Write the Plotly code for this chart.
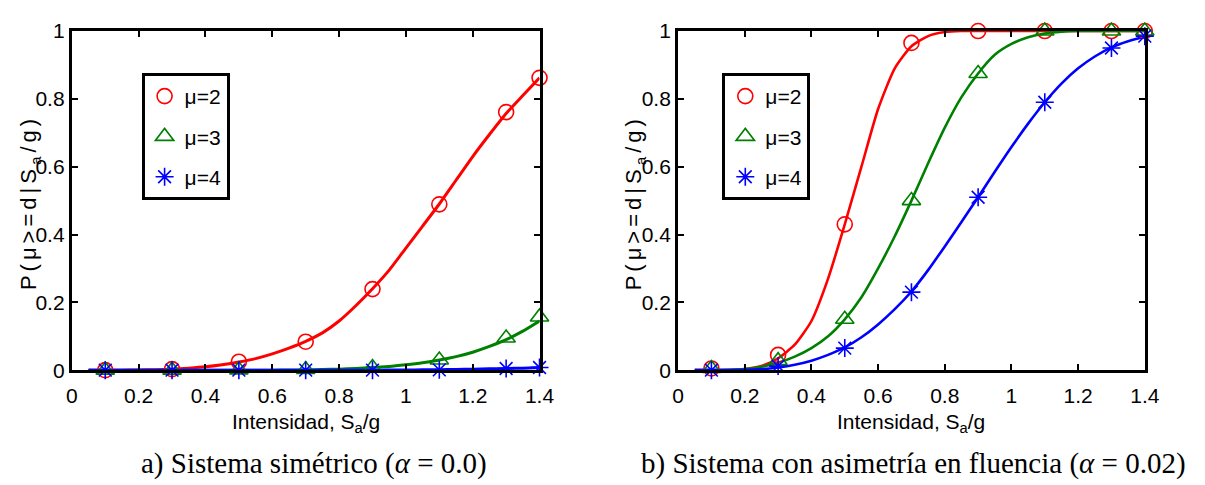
import plotly.graph_objects as go

# Intensity levels where the fragility was evaluated
x_pts = [0.1, 0.3, 0.5, 0.7, 0.9, 1.1, 1.3, 1.4]

# a) symmetric system (alpha = 0.0): evaluated probabilities
sym_mu2 = [0.0, 0.003, 0.025, 0.084, 0.239, 0.489, 0.761, 0.862]
sym_mu3 = [0.0, 0.0, 0.001, 0.002, 0.008, 0.030, 0.095, 0.157]
sym_mu4 = [0.0, 0.0, 0.0, 0.0, 0.0, 0.001, 0.005, 0.008]

# b) system with yield asymmetry (alpha = 0.02): evaluated probabilities
asym_mu2 = [0.005, 0.045, 0.430, 0.965, 1.0, 1.0, 1.0, 1.0]
asym_mu3 = [0.005, 0.028, 0.150, 0.500, 0.875, 1.0, 1.0, 1.0]
asym_mu4 = [0.0, 0.012, 0.065, 0.230, 0.510, 0.790, 0.950, 0.985]

# Fitted fragility curves
x_curve = [0.05, 0.10, 0.15, 0.20, 0.25, 0.30, 0.35, 0.40, 0.45, 0.50,
           0.55, 0.60, 0.65, 0.70, 0.75, 0.80, 0.85, 0.90, 0.95, 1.00,
           1.05, 1.10, 1.15, 1.20, 1.25, 1.30, 1.35, 1.40]

sym_fit_mu2 = [0.0, 0.0, 0.0, 0.0005, 0.0015, 0.003, 0.006, 0.010, 0.016, 0.024,
               0.034, 0.048, 0.065, 0.085, 0.110, 0.145, 0.190, 0.240, 0.295, 0.360,
               0.425, 0.490, 0.560, 0.630, 0.695, 0.757, 0.810, 0.862]
sym_fit_mu3 = [0.0, 0.0, 0.0, 0.0, 0.0, 0.0, 0.0, 0.0, 0.0, 0.0,
               0.0, 0.0, 0.0005, 0.001, 0.002, 0.003, 0.005, 0.008, 0.011, 0.016,
               0.022, 0.030, 0.040, 0.053, 0.070, 0.090, 0.115, 0.145]
sym_fit_mu4 = [0.0, 0.0, 0.0, 0.0, 0.0, 0.0, 0.0, 0.0, 0.0, 0.0,
               0.0, 0.0, 0.0, 0.0, 0.0, 0.0, 0.0, 0.0, 0.0003, 0.0005,
               0.001, 0.0015, 0.002, 0.003, 0.004, 0.005, 0.006, 0.008]

asym_fit_mu2 = [0.0, 0.0, 0.0005, 0.003, 0.012, 0.035, 0.075, 0.145, 0.270, 0.430,
                0.600, 0.770, 0.890, 0.955, 0.985, 0.997, 1.0, 1.0, 1.0, 1.0,
                1.0, 1.0, 1.0, 1.0, 1.0, 1.0, 1.0, 1.0]
asym_fit_mu3 = [0.0, 0.0, 0.001, 0.003, 0.010, 0.022, 0.040, 0.065, 0.100, 0.150,
                0.215, 0.300, 0.395, 0.500, 0.610, 0.715, 0.805, 0.875, 0.930, 0.962,
                0.982, 0.993, 0.998, 1.0, 1.0, 1.0, 1.0, 1.0]
asym_fit_mu4 = [0.0, 0.0, 0.0005, 0.001, 0.003, 0.008, 0.016, 0.028, 0.045, 0.067,
                0.097, 0.135, 0.180, 0.232, 0.295, 0.365, 0.437, 0.510, 0.585, 0.658,
                0.727, 0.790, 0.845, 0.890, 0.925, 0.952, 0.970, 0.983]

x_ticks = [0, 0.2, 0.4, 0.6, 0.8, 1, 1.2, 1.4]
y_ticks = [0, 0.2, 0.4, 0.6, 0.8, 1]

legend_names = ["\u03bc=2", "\u03bc=3", "\u03bc=4"]
colors = ["#ff0000", "#008000", "#0000ff"]
symbols = ["circle-open", "triangle-up-open", "asterisk-open"]
marker_sizes = [15, 16, 15]

SANS = "Liberation Sans, Arial, sans-serif"
SERIF = "Liberation Serif, Times New Roman, serif"

W, H = 1205, 485

fig = go.Figure()

panels = [
    dict(xa="x", ya="y", legend="legend", width=3.0,
         fits=[sym_fit_mu2, sym_fit_mu3, sym_fit_mu4],
         pts=[sym_mu2, sym_mu3, sym_mu4]),
    dict(xa="x2", ya="y2", legend="legend2", width=2.6,
         fits=[asym_fit_mu2, asym_fit_mu3, asym_fit_mu4],
         pts=[asym_mu2, asym_mu3, asym_mu4]),
]

for p in panels:
    for fit, col in zip(p["fits"], colors):
        fig.add_trace(go.Scatter(
            x=x_curve, y=fit, mode="lines", xaxis=p["xa"], yaxis=p["ya"],
            line=dict(color=col, width=p["width"], shape="spline", smoothing=0.6),
            showlegend=False, hoverinfo="skip"))
    for i, (vals, col, sym, sz, name) in enumerate(
            zip(p["pts"], colors, symbols, marker_sizes, legend_names)):
        fig.add_trace(go.Scatter(
            x=x_pts, y=vals, mode="markers", xaxis=p["xa"], yaxis=p["ya"],
            name=name, legend=p["legend"], legendgroup=p["legend"] + str(i),
            marker=dict(symbol=sym, size=sz, color=col, line=dict(color=col, width=1.6)),
            cliponaxis=False))

axis_common = dict(
    showgrid=False, zeroline=False, showline=True, linecolor="black", linewidth=3,
    mirror="ticks", ticks="inside", ticklen=6, tickwidth=2, tickcolor="black",
    tickfont=dict(family=SANS, size=21, color="black"), layer="above traces",
    fixedrange=True)

dom_y = [1 - 376 / H, 1 - 20 / H]
fig.update_layout(
    width=W, height=H, autosize=False,
    margin=dict(l=0, r=0, t=0, b=0),
    paper_bgcolor="white", plot_bgcolor="white",
    xaxis=dict(domain=[67 / W, 543 / W], range=[0, 1.4], tickvals=x_ticks, anchor="y",
               ticklabelstandoff=5, **axis_common),
    yaxis=dict(domain=dom_y, range=[0, 1], tickvals=y_ticks, anchor="x", **axis_common),
    xaxis2=dict(domain=[684 / W, 1159 / W], range=[0, 1.4], tickvals=x_ticks, anchor="y2",
                ticklabelstandoff=5, **axis_common),
    yaxis2=dict(domain=dom_y, range=[0, 1], tickvals=y_ticks, anchor="x2", **axis_common),
)

legend_style = dict(
    xref="paper", yref="paper", xanchor="left", yanchor="top",
    bgcolor="white", bordercolor="black", borderwidth=3,
    font=dict(family=SANS, size=21, color="black"),
    tracegroupgap=10, itemwidth=30, traceorder="grouped")
fig.update_layout(
    legend=dict(x=138 / W, y=1 - 64 / H, **legend_style),
    legend2=dict(x=729 / W, y=1 - 64 / H, **legend_style),
)

ylab = "P(\u03bc&gt;=d|S<sub>a</sub>/g)"
xlab = "Intensidad, S<sub>a</sub>/g"
annots = []
for cx_y, cx_x in [(24, 305), (640, 921)]:
    annots.append(dict(
        text="<span style='letter-spacing:4px'>" + ylab + "</span>",
        x=cx_y / W, y=1 - 200 / H, xref="paper", yref="paper",
        xanchor="center", yanchor="middle", textangle=-90, showarrow=False,
        font=dict(family=SANS, size=22, color="black")))
    annots.append(dict(
        text=xlab, x=cx_x / W, y=1 - 416 / H, xref="paper", yref="paper",
        xanchor="center", yanchor="top", showarrow=False,
        font=dict(family=SANS, size=21, color="black")))

annots.append(dict(
    text="a) Sistema simétrico (<i>\u03b1</i> = 0.0)", x=313 / W, y=1 - 474 / H,
    xref="paper", yref="paper", xanchor="center", yanchor="middle", showarrow=False,
    font=dict(family=SERIF, size=29, color="black")))
annots.append(dict(
    text="b) Sistema con asimetría en fluencia (<i>\u03b1</i> = 0.02)", x=924 / W, y=1 - 474 / H,
    xref="paper", yref="paper", xanchor="center", yanchor="middle", showarrow=False,
    font=dict(family=SERIF, size=29, color="black")))

fig.update_layout(annotations=annots)

fig.write_html("out.html")
